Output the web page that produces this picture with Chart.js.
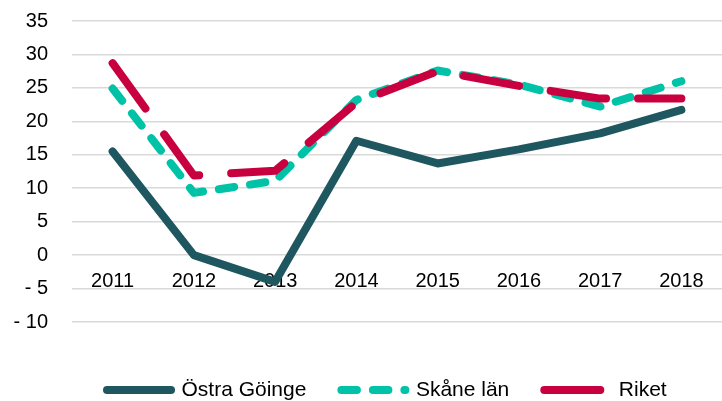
<!DOCTYPE html>
<html lang="sv">
<head>
<meta charset="utf-8">
<title>Östra Göinge, Skåne län, Riket</title>
<script src="https://cdn.jsdelivr.net/npm/chart.js@4.4.1/dist/chart.umd.min.js"></script>
<style>
    html, body { margin: 0; padding: 0; background: #ffffff; }
    #chart-wrap { position: relative; width: 722px; height: 401px; }
</style>
</head>
<body>
<div id="chart-wrap"><canvas id="goingeChart"></canvas></div>
<script>
// Données
const annees = ['2011', '2012', '2013', '2014', '2015', '2016', '2017', '2018'];
const ostraGoinge = [15.5, 0, -4, 17.1, 13.7, 15.8, 18.2, 21.7];
const skaneLan = [24.9, 9.3, 11.1, 23.2, 27.6, 25.5, 22.2, 26.0];
const riket = [28.7, 11.9, 12.6, 22.8, 27.5, 25.3, 23.4, 23.4];

const serieNoms = ['Östra Göinge', 'Skåne län', 'Riket'];

const couleurs = {
    sombre: '#1f5760',
    turquoise: '#00c2a7',
    rouge: '#c9003f',
    grille: '#d9d9d9',
    texte: '#000000'
};

Chart.defaults.font.family = "'Liberation Sans', Arial, sans-serif";
Chart.defaults.color = couleurs.texte;

// format Excel : "- 5" avec un espace
function formatTick(value) {
    if (value < 0) return '- ' + Math.abs(value);
    return String(value);
}

function creerDataset(label, data, color, dash, order) {
    return {
        label: label,
        data: data,
        borderColor: color,
        backgroundColor: color,
        borderWidth: 8,
        borderDash: dash,
        borderCapStyle: 'round',
        borderJoinStyle: 'round',
        pointRadius: 0,
        pointHoverRadius: 0,
        tension: 0,
        fill: false,
        order: order
    };
}

// la légende en pointStyle perd les tirets -> on les remet depuis le dataset
function genererLabels(chart) {
    const items = Chart.defaults.plugins.legend.labels.generateLabels(chart);
    items.forEach(item => {
        const ds = chart.data.datasets[item.datasetIndex];
        item.lineDash = ds.borderDash;
        item.lineCap = ds.borderCapStyle;
        item.lineWidth = ds.borderWidth;
        item.strokeStyle = ds.borderColor;
    });
    return items.sort((a, b) => a.datasetIndex - b.datasetIndex);
}

const ctx = document.getElementById('goingeChart').getContext('2d');

const goingeChart = new Chart(ctx, {
    type: 'line',
    data: {
        labels: annees,
        datasets: [
            creerDataset(serieNoms[0], ostraGoinge, couleurs.sombre, [], 2),
            creerDataset(serieNoms[1], skaneLan, couleurs.turquoise, [15.5, 16], 1),
            creerDataset(serieNoms[2], riket, couleurs.rouge, [56, 32], 0)
        ]
    },
    options: {
        responsive: true,
        maintainAspectRatio: false,
        animation: false,
        layout: {
            padding: { top: 21, left: 12, right: 0, bottom: 0 }
        },
        scales: {
            x: {
                type: 'category',
                offset: true,
                position: { y: 0 },   // libellés posés sur la ligne 0
                grid: { display: false, drawTicks: false },
                border: { display: false },
                ticks: {
                    padding: 14,
                    maxRotation: 0,
                    autoSkip: false,
                    font: { size: 20 }
                }
            },
            y: {
                min: -10,
                max: 35,
                grid: {
                    color: couleurs.grille,
                    lineWidth: 1.6,
                    drawTicks: true,
                    tickLength: 15,
                    tickColor: 'rgba(0,0,0,0)'
                },
                border: { display: false },
                ticks: {
                    stepSize: 5,
                    padding: 9,
                    font: { size: 20 },
                    callback: value => formatTick(value)
                },
                afterFit: scale => { scale.width = 60; }
            }
        },
        plugins: {
            legend: {
                display: true,
                position: 'bottom',
                align: 'start',
                fullSize: false,
                maxHeight: 79,
                title: {
                    display: true,
                    text: '',
                    font: { size: 12 },
                    padding: { top: 8.1, bottom: 0 }
                },
                labels: {
                    usePointStyle: true,
                    pointStyle: 'line',
                    pointStyleWidth: 64,
                    padding: 35,
                    font: { size: 21 },
                    color: couleurs.texte,
                    generateLabels: genererLabels
                }
            },
            tooltip: { enabled: false }
        }
    }
});
</script>
</body>
</html>
